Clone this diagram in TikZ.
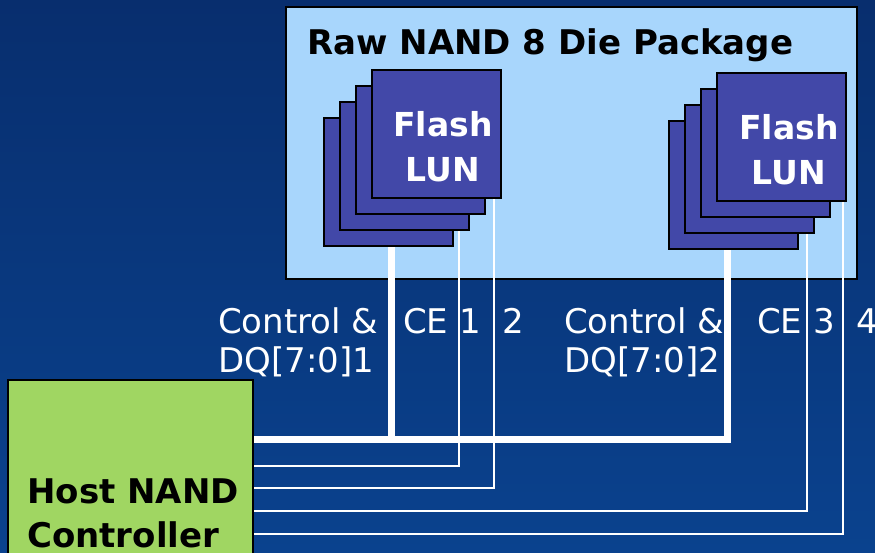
\documentclass[tikz,border=0pt]{standalone}
\usepackage{fontspec}
\setmainfont{DejaVu Sans}
\usetikzlibrary{backgrounds}
\definecolor{bgtop}{RGB}{8,46,110}
\definecolor{bgbot}{RGB}{10,66,142}
\definecolor{pkgc}{RGB}{168,214,252}
\definecolor{lunc}{RGB}{66,72,168}
\definecolor{hostc}{RGB}{160,214,98}

\begin{document}
\begin{tikzpicture}[x=1pt,y=-1pt,
  lun/.style={draw,line width=2pt,fill=lunc,minimum width=129pt,minimum height=128pt,inner sep=0pt},
  lunlbl/.style={font=\bfseries\fontsize{33}{45}\selectfont,text=white,align=center,inner sep=0pt},
  sig/.style={font=\fontsize{34}{39}\selectfont,text=white,align=left,anchor=base west,inner sep=0pt},
  boxc/.style={draw,line width=2pt,inner sep=0pt},
  bus/.style={draw=white,line width=7pt},
  ce/.style={draw=white,line width=2pt}]
  \useasboundingbox (0,0) rectangle (875,552);
  \foreach \i/\s in {1/3,2/2,3/1,4/0}{
    \node[lun] (L\i) at (436-16*\s,134+16*\s) {};
    \node[lun] (R\i) at (781.5-16*\s,137+16*\s) {};
  }
  \node[lunlbl,xshift=7pt,yshift=-12.5pt] (Ltxt) at (L4) {Flash\\LUN};
  \node[lunlbl,xshift=7.5pt,yshift=-12.5pt] (Rtxt) at (R4) {Flash\\LUN};
  \node[boxc,fill=hostc,minimum width=245pt,minimum height=220pt] (host) at (130.5,490) {};
  \node[font=\bfseries\fontsize{34}{44}\selectfont,align=left,anchor=base west,inner sep=0pt] (hosttxt) at (27,547) {Host NAND\\Controller};
  \begin{scope}[on background layer]
    \shade[top color=bgtop,bottom color=bgbot] (0,0) rectangle (875,552);
    \node[boxc,fill=pkgc,minimum width=571pt,minimum height=272pt] (pkg) at (571.5,143) {};
    \node[font=\bfseries\fontsize{34}{39}\selectfont,anchor=base west,inner sep=0pt] (title) at (307,54) {Raw NAND 8 Die Package};
    \node[sig] (dq1) at (218,372) {Control \&\\DQ[7:0]1};
    \node[sig] (ce12) at (403,333) {CE 1\ \ 2};
    \node[sig] (dq2) at (564,372) {Control \&\\DQ[7:0]2};
    \node[sig] (ce34) at (757,333) {CE 3\ \ 4};
    \draw[bus] ([yshift=51pt]host.east) -| ([xshift=-6.5pt]R1.south);
    \draw[bus] ([xshift=3pt]L1.south) |- ([yshift=51pt]host.east);
    \draw[ce] ([xshift=55pt]L2.south) |- ([yshift=24pt]host.east);
    \draw[ce] ([xshift=58pt]L4.south) |- ([yshift=2pt]host.east);
    \draw[ce] ([xshift=57.5pt]R2.south) |- ([yshift=-21pt]host.east);
    \draw[ce] ([xshift=61.5pt]R4.south) |- ([yshift=-44pt]host.east);
  \end{scope}
\end{tikzpicture}
\end{document}
